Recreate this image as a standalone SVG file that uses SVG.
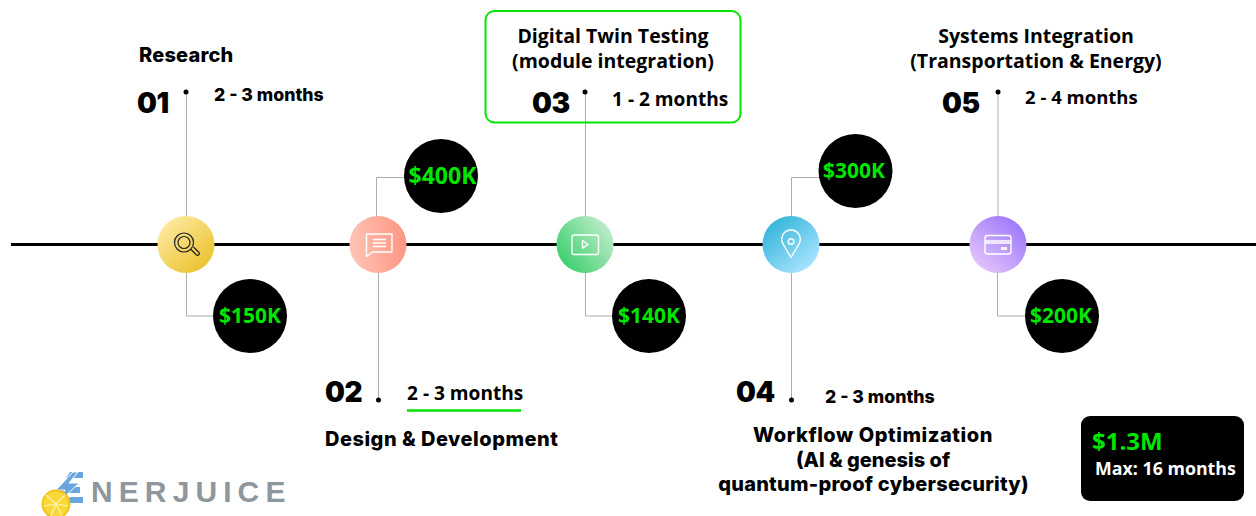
<svg xmlns="http://www.w3.org/2000/svg" width="1256" height="516" viewBox="0 0 1256 516">
<style>
text{font-family:"Open Sans","Noto Sans","Liberation Sans",sans-serif;font-weight:700;fill:#000}
.t{font-size:19.500px;font-weight:700}
.w{font-family:Inter,"Open Sans",sans-serif;font-weight:800;font-size:20px;letter-spacing:.5px}
.m{font-size:19.100px;font-weight:700}
.mw{font-family:Inter,"Open Sans",sans-serif;font-weight:800;font-size:17.700px}
.n{font-family:Inter,"Open Sans",sans-serif;font-size:28px;font-weight:900;letter-spacing:-.5px}
.p{font-size:21px;fill:#00e600;text-anchor:middle}
.c{text-anchor:middle}
.l{fill:none;stroke:#adadad;stroke-width:1}
.d{fill:#000}
.i{fill:none;stroke:#fff;stroke-width:1.400;stroke-linejoin:round}
</style>
<defs>
<linearGradient id="g1" x1="0.15" y1="0.1" x2="0.85" y2="0.9"><stop offset="0" stop-color="#fde9a0"/><stop offset="1" stop-color="#ecc22f"/></linearGradient>
<linearGradient id="g2" x1="0" y1="0.5" x2="1" y2="0.4"><stop offset="0" stop-color="#ffc4b4"/><stop offset="1" stop-color="#fe9583"/></linearGradient>
<linearGradient id="g3" x1="0.1" y1="0.8" x2="0.9" y2="0.2"><stop offset="0" stop-color="#3fd070"/><stop offset="1" stop-color="#bcebc8"/></linearGradient>
<linearGradient id="g4" x1="0.15" y1="0.1" x2="0.85" y2="0.9"><stop offset="0" stop-color="#35b5da"/><stop offset="1" stop-color="#aae4ff"/></linearGradient>
<linearGradient id="g5" x1="0.85" y1="0.1" x2="0.15" y2="0.9"><stop offset="0" stop-color="#9d78fb"/><stop offset="1" stop-color="#e2c4fb"/></linearGradient>
</defs>
<rect width="1256" height="516" fill="#fff"/>
<g id="connectors">
<line x1="11" y1="244.500" x2="1256" y2="244.500" stroke="#000" stroke-width="3"/>
<path class="l" d="M186.500 92V316H214"/>
<path class="l" d="M404 177.500H376.500V220"/>
<path class="l" d="M378.500 270V400"/>
<path class="l" d="M585.500 92V316H612"/>
<path class="l" d="M819 177.500H791.500V400"/>
<path class="l" d="M998 92V220M997.500 270V316H1025"/>
<circle class="d" cx="186" cy="92" r="2.500"/>
<circle class="d" cx="378.500" cy="400" r="2.500"/>
<circle class="d" cx="585" cy="92" r="2.500"/>
<circle class="d" cx="791.500" cy="400" r="2.500"/>
<circle class="d" cx="998" cy="92" r="2.500"/>
</g>
<g id="step1">
<circle cx="186" cy="244.500" r="28.500" fill="url(#g1)"/>
<circle cx="184" cy="242.500" r="9.500" fill="none" stroke="#222" stroke-width="1.200"/>
<circle cx="184" cy="242.500" r="6" fill="none" stroke="#222" stroke-width="1.200"/>
<path d="M191 249.500l5.500 5.500a1.800 1.800 0 0 0 2.500-2.500l-5.500-5.500" fill="none" stroke="#222" stroke-width="1.200"/>
<text class="w" x="139" y="62" style="letter-spacing:.2px">Research</text>
<text class="n" x="137" y="113">01</text>
<text class="mw" x="214" y="101">2 - 3 months</text>
</g>
<g id="step2">
<circle cx="378" cy="244.500" r="28.500" fill="url(#g2)"/>
<path class="i" d="M366.500 234h25.500v18h-19.500l-6 4.500z"/>
<path class="i" d="M373 239.500h13M373 243h13M373 246.500h13" stroke-width="1.100"/>
<text class="n" x="325" y="402">02</text>
<text class="m" x="407" y="400">2 - 3 months</text>
<line x1="407" y1="410.500" x2="521" y2="410.500" stroke="#00e600" stroke-width="2.500"/>
<text class="w" x="325" y="446">Design &amp; Development</text>
</g>
<g id="step3">
<rect x="485.500" y="11" width="255" height="111.500" rx="9" fill="none" stroke="#00e600" stroke-width="2"/>
<circle cx="585" cy="244.500" r="28.500" fill="url(#g3)"/>
<rect class="i" x="572" y="235" width="26.500" height="19.500" rx="2"/>
<path class="i" d="M582.500 240.500l5.500 3.800l-5.500 3.800z"/>
<text class="t c" x="613" y="42.500">Digital Twin Testing</text>
<text class="t c" x="613" y="68">(module integration)</text>
<text class="n" x="532" y="113">03</text>
<text class="m" x="612" y="106">1 - 2 months</text>
</g>
<g id="step4">
<circle cx="791" cy="244.500" r="28.500" fill="url(#g4)"/>
<path class="i" d="M791 257.500l-8-13.500a9.300 9.300 0 1 1 16 0z"/>
<circle class="i" cx="791" cy="241.500" r="2.800"/>
<text class="n" x="736" y="402">04</text>
<text class="mw" x="825" y="403">2 - 3 months</text>
<text class="w c" x="873" y="442" style="letter-spacing:.55px">Workflow Optimization</text>
<text class="w c" x="873" y="467" style="letter-spacing:0">(AI &amp; genesis of</text>
<text class="w c" x="873.500" y="491" style="letter-spacing:.25px">quantum-proof cybersecurity)</text>
</g>
<g id="step5">
<circle cx="998" cy="244.500" r="28.500" fill="url(#g5)"/>
<rect class="i" x="985" y="235.500" width="26" height="18.500" rx="2.500"/>
<path class="i" d="M985 241h26M985 243h26" stroke-width="1.100"/>
<circle class="i" cx="1002.500" cy="248.500" r="1" stroke-width="1.100"/>
<circle class="i" cx="1005.500" cy="248.500" r="1" stroke-width="1.100"/>
<text class="t c" x="1036" y="42.500">Systems Integration</text>
<text class="t c" x="1036" y="68">(Transportation &amp; Energy)</text>
<text class="n" x="942" y="113">05</text>
<text class="m" x="1025" y="104" style="font-size:18.500px">2 - 4 months</text>
</g>
<g id="cost150"><circle cx="250" cy="316" r="37" fill="#000"/><text class="p" x="250" y="323">$150K</text></g>
<g id="cost400"><circle cx="441" cy="176" r="37" fill="#000"/><text class="p" x="442.500" y="184" style="font-size:23px">$400K</text></g>
<g id="cost140"><circle cx="649" cy="316" r="37" fill="#000"/><text class="p" x="649" y="323">$140K</text></g>
<g id="cost300"><circle cx="855.500" cy="171" r="37" fill="#000"/><text class="p" x="854" y="178">$300K</text></g>
<g id="cost200"><circle cx="1062" cy="316" r="37" fill="#000"/><text class="p" x="1061" y="323">$200K</text></g>
<g id="total">
<rect x="1081" y="416" width="163" height="85" rx="9" fill="#000"/>
<text x="1092" y="450" font-size="24" style="fill:#00e600;font-weight:700">$1.3M</text>
<text x="1095" y="475" font-size="17.800" style="fill:#fff;font-weight:700">Max: 16 months</text>
</g>
<g id="logo">
<path d="M70 472H83V478H66zM62 487H80V493H58zM70 497H83V503H66z" fill="#6aa5e0"/>
<path d="M73 472L56 490H65L57 504L79 483H69L78 472z" fill="#6aa5e0" stroke="#fff" stroke-width="1"/>
<circle cx="56" cy="504" r="13.500" fill="#f9d937" stroke="#f2c21b" stroke-width="2"/>
<path d="M56 504L46 495M56 504L65 495M56 504L44 506M56 504L68 506M56 504L51 516M56 504L62 516" stroke="#fff3b0" stroke-width="1.200"/>
<text x="91" y="502" font-size="30" letter-spacing="6.100" style="fill:#8d979c;font-weight:700;font-family:'Liberation Sans',sans-serif">NERJUICE</text>
</g>
</svg>
